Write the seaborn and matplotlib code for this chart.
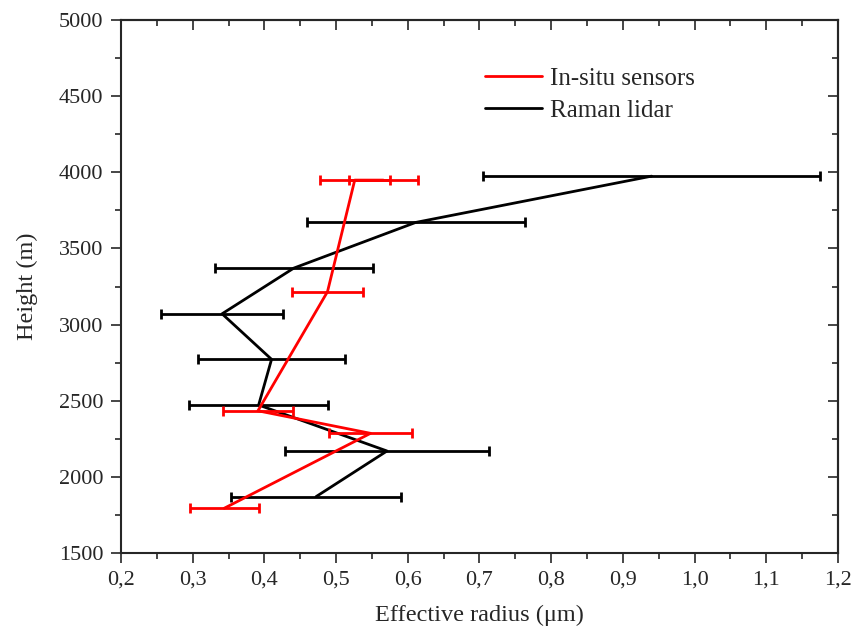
import numpy as np
import pandas as pd
import matplotlib
matplotlib.use("Agg")
import matplotlib.pyplot as plt
import seaborn as sns
from matplotlib.ticker import MultipleLocator, FuncFormatter

# in-situ sensors (red): effective radius, height, half error
insitu_r = [0.344, 0.548, 0.391, 0.488, 0.526, 0.566]
insitu_h = [1794, 2286, 2434, 3216, 3949, 3949]
insitu_err = [0.048, 0.058, 0.049, 0.050, 0.049, 0.048]

# Raman lidar (black)
lidar_r = [0.472, 0.571, 0.392, 0.410, 0.341, 0.441, 0.611, 0.940]
lidar_h = [1870, 2170, 2472, 2772, 3071, 3371, 3671, 3975]
lidar_err = [0.118, 0.142, 0.097, 0.102, 0.085, 0.110, 0.152, 0.235]

sns.set_style("ticks")
plt.rcParams["font.family"] = ["Liberation Serif", "DejaVu Serif"]

fig, ax = plt.subplots(figsize=(8.58, 6.27), dpi=100)
fig.subplots_adjust(left=0.141, right=0.9767, top=0.968, bottom=0.118)

# black first so the red series sits on top
ax.errorbar(lidar_r, lidar_h, xerr=lidar_err, fmt="none", ecolor="black",
            elinewidth=2, capsize=3.6, capthick=2, zorder=2)
sns.lineplot(x=lidar_r, y=lidar_h, sort=False, estimator=None, color="black",
             lw=2, ax=ax, label="Raman lidar", zorder=3)

ax.errorbar(insitu_r, insitu_h, xerr=insitu_err, fmt="none", ecolor="red",
            elinewidth=2, capsize=3.6, capthick=2, zorder=4)
sns.lineplot(x=insitu_r, y=insitu_h, sort=False, estimator=None, color="red",
             lw=2, ax=ax, label="In-situ sensors", zorder=5)

ax.set_xlim(0.2, 1.2)
ax.set_ylim(1500, 5000)
ax.xaxis.set_major_locator(MultipleLocator(0.1))
ax.xaxis.set_minor_locator(MultipleLocator(0.05))
ax.yaxis.set_major_locator(MultipleLocator(500))
ax.yaxis.set_minor_locator(MultipleLocator(250))
ax.xaxis.set_major_formatter(FuncFormatter(lambda v, p: f"{v:.1f}".replace(".", ",")))

for s in ax.spines.values():
    s.set_linewidth(1.5)
    s.set_visible(True)
ax.tick_params(which="major", direction="out", length=7.5, width=1.2, labelsize=16, pad=5)
ax.tick_params(which="minor", direction="out", length=4.3, width=1.2)

# top and right ticks point inwards
top = ax.secondary_xaxis("top")
top.xaxis.set_major_locator(MultipleLocator(0.1))
top.xaxis.set_minor_locator(MultipleLocator(0.05))
top.tick_params(which="major", direction="in", length=7.5, width=1.2, labeltop=False)
top.tick_params(which="minor", direction="in", length=4.3, width=1.2)
right = ax.secondary_yaxis("right")
right.yaxis.set_major_locator(MultipleLocator(500))
right.yaxis.set_minor_locator(MultipleLocator(250))
right.tick_params(which="major", direction="in", length=7.5, width=1.2, labelright=False)
right.tick_params(which="minor", direction="in", length=4.3, width=1.2)
for sec in (top, right):
    for s in sec.spines.values():
        s.set_linewidth(1.5)

ax.set_xlabel("Effective radius (μm)", fontsize=17.5, labelpad=11)
ax.set_ylabel("Height (m)", fontsize=17.5, labelpad=15)

h, l = ax.get_legend_handles_labels()
order = [l.index("In-situ sensors"), l.index("Raman lidar")]
ax.legend([h[i] for i in order], [l[i] for i in order], loc="upper left",
          bbox_to_anchor=(0.476, 0.953), frameon=False, fontsize=18,
          handlelength=2.3, handletextpad=0.3, labelspacing=0.38)

fig.savefig("out.png", dpi=100)
